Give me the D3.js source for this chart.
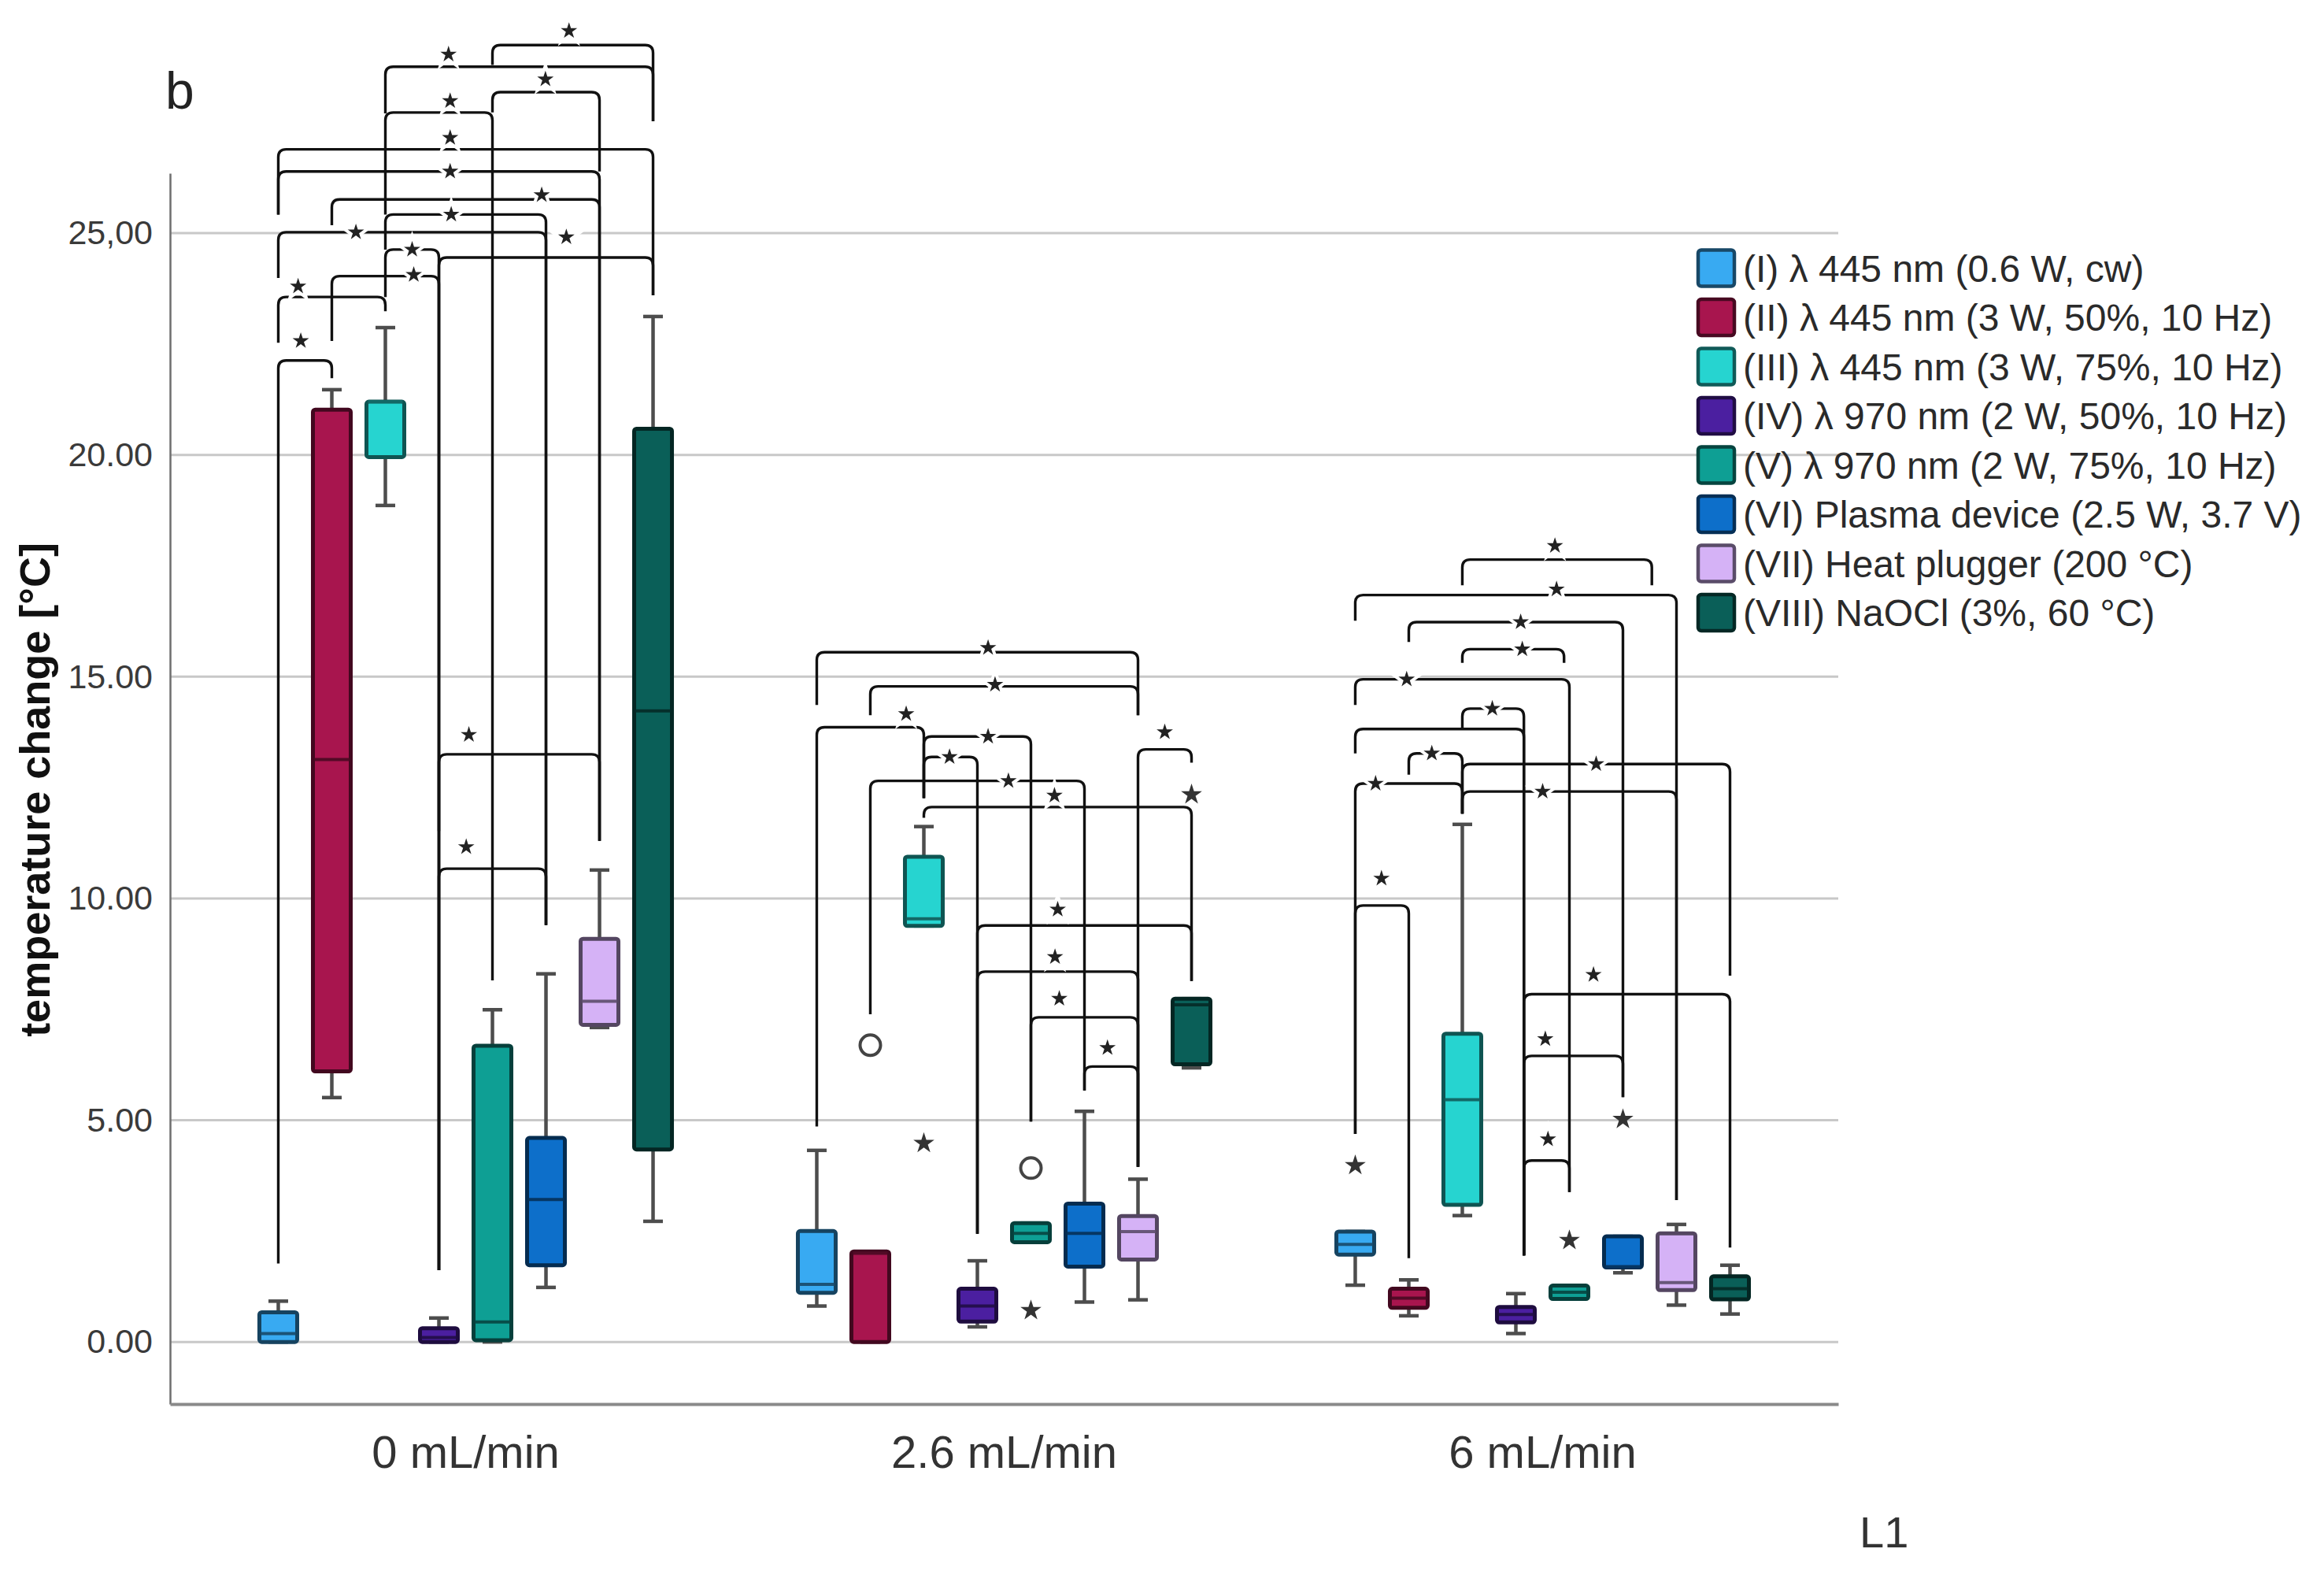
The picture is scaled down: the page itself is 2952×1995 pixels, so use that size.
<!DOCTYPE html>
<html lang="en">
<head>
  <meta charset="UTF-8">
  <title>temperature change boxplot</title>
  <style>
    body { margin: 0; background: #fff; }
    text { font-family: "Liberation Sans", Arial, sans-serif; }
  </style>
</head>
<body>
  <script src="https://d3js.org/d3.v7.min.js"></script>
  <script>
    // flow rate groups and the eight treatments
    const categories = ["0 mL/min", "2.6 mL/min", "6 mL/min"];
    const seriesNames = [
      "(I) λ 445 nm (0.6 W, cw)",
      "(II) λ 445 nm (3 W, 50%, 10 Hz)",
      "(III) λ 445 nm (3 W, 75%, 10 Hz)",
      "(IV) λ 970 nm (2 W, 50%, 10 Hz)",
      "(V) λ 970 nm (2 W, 75%, 10 Hz)",
      "(VI) Plasma device (2.5 W, 3.7 V)",
      "(VII) Heat plugger (200 °C)",
      "(VIII) NaOCl (3%, 60 °C)"
    ];
    const seriesColors = ["#38aaf2", "#a8154e", "#26d4d0", "#4b1fa0", "#0e9f94", "#0d6fca", "#d5b2f6", "#0a5f58"];

    // [min, q1, median, q3, max] per group
    const boxI    = [[0, 0, 0.19, 0.67, 0.92], [0.81, 1.11, 1.3, 2.5, 4.32], [1.28, 1.97, 2.2, 2.49, 2.49]];
    const boxII   = [[5.51, 6.1, 13.13, 21.02, 21.47], [0, 0, 2.0, 2.04, 2.04], [0.59, 0.77, 0.99, 1.2, 1.4]];
    const boxIII  = [[18.86, 19.95, 21.2, 21.2, 22.87], [9.38, 9.38, 9.54, 10.94, 11.62], [2.85, 3.09, 5.46, 6.95, 11.67]];
    const boxIV   = [[0, 0, 0.1, 0.31, 0.54], [0.34, 0.46, 0.81, 1.2, 1.83], [0.19, 0.44, 0.62, 0.79, 1.09]];
    const boxV    = [[0, 0.04, 0.45, 6.68, 7.49], [2.25, 2.25, 2.45, 2.68, 2.68], [0.97, 0.97, 1.12, 1.27, 1.27]];
    const boxVI   = [[1.23, 1.73, 3.21, 4.6, 8.3], [0.9, 1.7, 2.45, 3.12, 5.2], [1.56, 1.68, 1.7, 2.38, 2.38]];
    const boxVII  = [[7.09, 7.15, 7.68, 9.09, 10.64], [0.95, 1.86, 2.49, 2.84, 3.67], [0.83, 1.17, 1.34, 2.45, 2.65]];
    const boxVIII = [[2.72, 4.34, 14.23, 20.59, 23.12], [6.18, 6.26, 7.6, 7.74, 7.74], [0.63, 0.96, 1.2, 1.48, 1.73]];
    const boxStats = [boxI, boxII, boxIII, boxIV, boxV, boxVI, boxVII, boxVIII];

    // outliers: [group, series, value]
    const outlierCircles = [[1, 1, 6.69], [1, 4, 3.92]];
    const outlierStars = [[1, 2, 4.48], [1, 4, 0.71], [1, 7, 12.34], [2, 0, 3.98], [2, 4, 2.29], [2, 5, 5.02]];

    // significance brackets: [from, to, bar, leg end from, leg end to, star at, star value]
    const brackets0 = [
      [4, 7, 29.24, 28.79, 27.52, 5.43, 29.56],
      [2, 7, 28.75, 27.7, 27.52, 3.18, 29.03],
      [4, 6, 28.18, 27.72, 26.39, 4.99, 28.47],
      [2, 4, 27.72, 25.42, 8.15, 3.21, 27.98],
      [0, 7, 26.89, 25.42, 23.6, 3.21, 27.15],
      [0, 6, 26.39, 25.42, 11.3, 3.21, 26.39],
      [1, 6, 25.76, 25.18, 11.3, 4.92, 25.86],
      [2, 5, 25.42, 24.63, 9.4, 3.23, 25.42],
      [0, 5, 25.02, 23.99, 9.4, 1.45, 25.02],
      [3, 7, 24.45, 1.62, 23.6, 5.38, 24.91],
      [2, 3, 24.63, 23.56, 1.62, 2.5, 24.63],
      [1, 3, 24.03, 22.57, 1.62, 2.53, 24.06],
      [0, 2, 23.56, 22.53, 23.24, 0.37, 23.8],
      [0, 1, 22.13, 1.77, 21.73, 0.42, 22.57],
      [3, 6, 13.25, 11.52, 11.3, 3.56, 13.69],
      [3, 5, 10.67, 1.62, 9.4, 3.51, 11.16]
    ];
    const brackets1 = [
      [0, 6, 15.55, 14.36, 14.13, 3.2, 15.65],
      [1, 6, 14.78, 14.13, 14.13, 3.33, 14.82],
      [0, 2, 13.86, 4.86, 12.26, 1.67, 14.16],
      [2, 4, 13.65, 12.26, 4.97, 3.2, 13.65],
      [6, 7, 13.36, 3.95, 13.06, 6.5, 13.75],
      [2, 3, 13.19, 12.26, 2.44, 2.48, 13.19],
      [1, 5, 12.65, 7.39, 5.67, 3.58, 12.65],
      [2, 7, 12.06, 11.82, 8.14, 4.44, 12.32],
      [3, 7, 9.39, 2.44, 8.14, 4.5, 9.75],
      [3, 6, 8.35, 2.44, 3.95, 4.45, 8.68],
      [4, 6, 7.32, 4.97, 3.95, 4.53, 7.74],
      [5, 6, 6.21, 5.67, 3.95, 5.43, 6.63]
    ];
    const brackets2 = [
      [2, 5.54, 17.64, 17.06, 17.06, 3.73, 17.95],
      [0, 6, 16.84, 16.26, 3.2, 3.76, 16.97],
      [1, 5, 16.23, 15.78, 5.52, 3.09, 16.23],
      [2, 3.9, 15.62, 15.31, 15.31, 3.12, 15.62],
      [0, 4, 14.94, 14.36, 3.38, 0.96, 14.94],
      [2, 3.15, 14.28, 13.83, 1.95, 2.56, 14.28],
      [0, 3.15, 13.82, 13.27, 1.95, null, null],
      [1, 2, 13.27, 12.79, 11.91, 1.43, 13.27],
      [2, 7, 13.03, 11.91, 8.26, 4.5, 13.03],
      [0, 2, 12.59, 4.69, 11.91, 0.38, 12.59],
      [2, 6, 12.41, 11.91, 3.2, 3.5, 12.41],
      [0, 1, 9.84, 4.69, 1.89, 0.49, 10.45],
      [3.15, 7, 7.84, 1.95, 2.13, 4.45, 8.28],
      [3.15, 5, 6.45, 1.95, 5.52, 3.55, 6.83],
      [3.15, 4, 4.09, 1.95, 3.38, 3.6, 4.57]
    ];
    const bracketGroups = [brackets0, brackets1, brackets2];

    const yTicks = [0, 5, 10, 15, 20, 25];
    const yTickLabels = ["0.00", "5.00", "10.00", "15.00", "20.00", "25,00"];

    const width = 2952;
    const height = 1995;
    const plotLeft = 216, plotRight = 2335, plotTop = 220, plotBottom = 1783;

    const svg = d3.select("body").append("svg").attr("width", width).attr("height", height);

    const x0 = d3.scaleBand().domain(categories).range([plotLeft, plotRight]).paddingInner(0).paddingOuter(0.049);
    const x1 = d3.scaleBand().domain(seriesNames).range([0, x0.bandwidth()]).paddingInner(0.294).paddingOuter(1.176);
    const y = d3.scaleLinear().domain([-1.4, 26.35]).range([plotBottom, plotTop]);

    // centre of a series slot, fractional positions allowed for bracket legs
    function xAt(g, i) {
      return x0(categories[g]) + x1(seriesNames[0]) + x1.bandwidth() / 2 + i * x1.step();
    }

    // grid
    svg.append("g")
      .selectAll("line")
      .data(yTicks)
      .enter()
      .append("line")
      .attr("x1", plotLeft).attr("x2", plotRight)
      .attr("y1", d => y(d)).attr("y2", d => y(d))
      .attr("stroke", "#c8c8c8")
      .attr("stroke-width", 3);

    // y axis
    const axisY = d3.axisLeft(y).tickValues(yTicks)
      .tickFormat((d, i) => yTickLabels[i])
      .tickSize(0).tickSizeOuter(0).tickPadding(22);
    const gy = svg.append("g").attr("transform", "translate(" + plotLeft + ",0)").call(axisY);
    gy.select(".domain").attr("stroke", "#6e6e6e").attr("stroke-width", 2.5);
    gy.selectAll("text").attr("font-size", 43).attr("fill", "#3a3a3a")
      .style("font-family", "'Liberation Sans', Arial, sans-serif");

    // x axis
    const axisX = d3.axisBottom(x0).tickSize(0).tickSizeOuter(0).tickPadding(40);
    const gx = svg.append("g").attr("transform", "translate(0," + plotBottom + ")").call(axisX);
    gx.select(".domain").attr("stroke", "#8a8a8a").attr("stroke-width", 4);
    gx.selectAll("text").attr("font-size", 58).attr("fill", "#333")
      .style("font-family", "'Liberation Sans', Arial, sans-serif");

    // boxes
    const rows = [];
    categories.forEach((c, g) => {
      seriesNames.forEach((n, s) => {
        rows.push({ g: g, s: s, v: boxStats[s][g] });
      });
    });
    const bw = x1.bandwidth();
    const capW = 25;
    const whisk = "#4d4d4d";

    const boxes = svg.append("g").selectAll("g").data(rows).enter().append("g");

    boxes.append("line")
      .attr("x1", d => xAt(d.g, d.s)).attr("x2", d => xAt(d.g, d.s))
      .attr("y1", d => y(d.v[0])).attr("y2", d => y(d.v[1]))
      .attr("stroke", whisk).attr("stroke-width", 4.5);
    boxes.append("line")
      .attr("x1", d => xAt(d.g, d.s)).attr("x2", d => xAt(d.g, d.s))
      .attr("y1", d => y(d.v[3])).attr("y2", d => y(d.v[4]))
      .attr("stroke", whisk).attr("stroke-width", 4.5);
    boxes.append("line")
      .attr("x1", d => xAt(d.g, d.s) - capW / 2).attr("x2", d => xAt(d.g, d.s) + capW / 2)
      .attr("y1", d => y(d.v[0])).attr("y2", d => y(d.v[0]))
      .attr("stroke", whisk).attr("stroke-width", 4.5);
    boxes.append("line")
      .attr("x1", d => xAt(d.g, d.s) - capW / 2).attr("x2", d => xAt(d.g, d.s) + capW / 2)
      .attr("y1", d => y(d.v[4])).attr("y2", d => y(d.v[4]))
      .attr("stroke", whisk).attr("stroke-width", 4.5);
    boxes.append("rect")
      .attr("x", d => xAt(d.g, d.s) - bw / 2)
      .attr("y", d => y(d.v[3]))
      .attr("width", bw)
      .attr("height", d => Math.max(2, y(d.v[1]) - y(d.v[3])))
      .attr("rx", 3)
      .attr("fill", d => seriesColors[d.s])
      .attr("stroke", d => d3.color(seriesColors[d.s]).darker(2.6))
      .attr("stroke-width", 5);
    boxes.append("line")
      .attr("x1", d => xAt(d.g, d.s) - bw / 2 + 2).attr("x2", d => xAt(d.g, d.s) + bw / 2 - 2)
      .attr("y1", d => y(d.v[2])).attr("y2", d => y(d.v[2]))
      .attr("stroke", d => d3.color(seriesColors[d.s]).darker(2))
      .attr("stroke-width", 4);

    // outliers
    svg.append("g").selectAll("circle")
      .data(outlierCircles)
      .enter()
      .append("circle")
      .attr("cx", d => xAt(d[0], d[1]))
      .attr("cy", d => y(d[2]))
      .attr("r", 13)
      .attr("fill", "none")
      .attr("stroke", "#444")
      .attr("stroke-width", 4);

    const bigStar = d3.symbol().type(d3.symbolStar).size(220);
    svg.append("g").selectAll("path")
      .data(outlierStars)
      .enter()
      .append("path")
      .attr("d", bigStar)
      .attr("transform", d => "translate(" + xAt(d[0], d[1]) + "," + y(d[2]) + ")")
      .attr("fill", "#333");

    // significance brackets
    const r = 10;
    function bracketPath(g, b) {
      const xa = xAt(g, b[0]), xb = xAt(g, b[1]), yb = y(b[2]);
      return "M" + xa + "," + y(b[3]) +
        " L" + xa + "," + (yb + r) +
        " Q" + xa + "," + yb + " " + (xa + r) + "," + yb +
        " L" + (xb - r) + "," + yb +
        " Q" + xb + "," + yb + " " + xb + "," + (yb + r) +
        " L" + xb + "," + y(b[4]);
    }

    const smallStar = d3.symbol().type(d3.symbolStar).size(135);
    bracketGroups.forEach((list, g) => {
      const gb = svg.append("g");
      gb.selectAll("path.br")
        .data(list)
        .enter()
        .append("path")
        .attr("class", "br")
        .attr("d", d => bracketPath(g, d))
        .attr("fill", "none")
        .attr("stroke", "#111")
        .attr("stroke-width", 3.4);
      gb.selectAll("path.st")
        .data(list.filter(d => d[5] !== null))
        .enter()
        .append("path")
        .attr("class", "st")
        .attr("d", smallStar)
        .attr("transform", d => "translate(" + xAt(g, d[5]) + "," + y(d[6]) + ")")
        .attr("fill", "#222")
        .attr("stroke", "#fff")
        .attr("stroke-width", 8)
        .attr("paint-order", "stroke");
    });

    // y axis title
    svg.append("text")
      .attr("transform", "translate(63,1003) rotate(-90)")
      .attr("text-anchor", "middle")
      .attr("font-size", 54)
      .attr("font-weight", "bold")
      .attr("fill", "#111")
      .text("temperature change [°C]");

    // panel letter and L1
    svg.append("text").attr("x", 210).attr("y", 138).attr("font-size", 66).attr("fill", "#222").text("b");
    svg.append("text").attr("x", 2362).attr("y", 1965).attr("font-size", 56).attr("fill", "#333").text("L1");

    // legend
    const legend = svg.append("g").selectAll("g")
      .data(seriesNames)
      .enter()
      .append("g")
      .attr("transform", (d, i) => "translate(2157," + (317.5 + i * 62.5) + ")");
    legend.append("rect")
      .attr("width", 46).attr("height", 46).attr("rx", 4)
      .attr("fill", (d, i) => seriesColors[i])
      .attr("stroke", (d, i) => d3.color(seriesColors[i]).darker(2.4))
      .attr("stroke-width", 4.5);
    legend.append("text")
      .attr("x", 57).attr("y", 23).attr("dy", "0.36em")
      .attr("font-size", 48)
      .attr("fill", "#2a2a2a")
      .text(d => d);
  </script>
</body>
</html>
